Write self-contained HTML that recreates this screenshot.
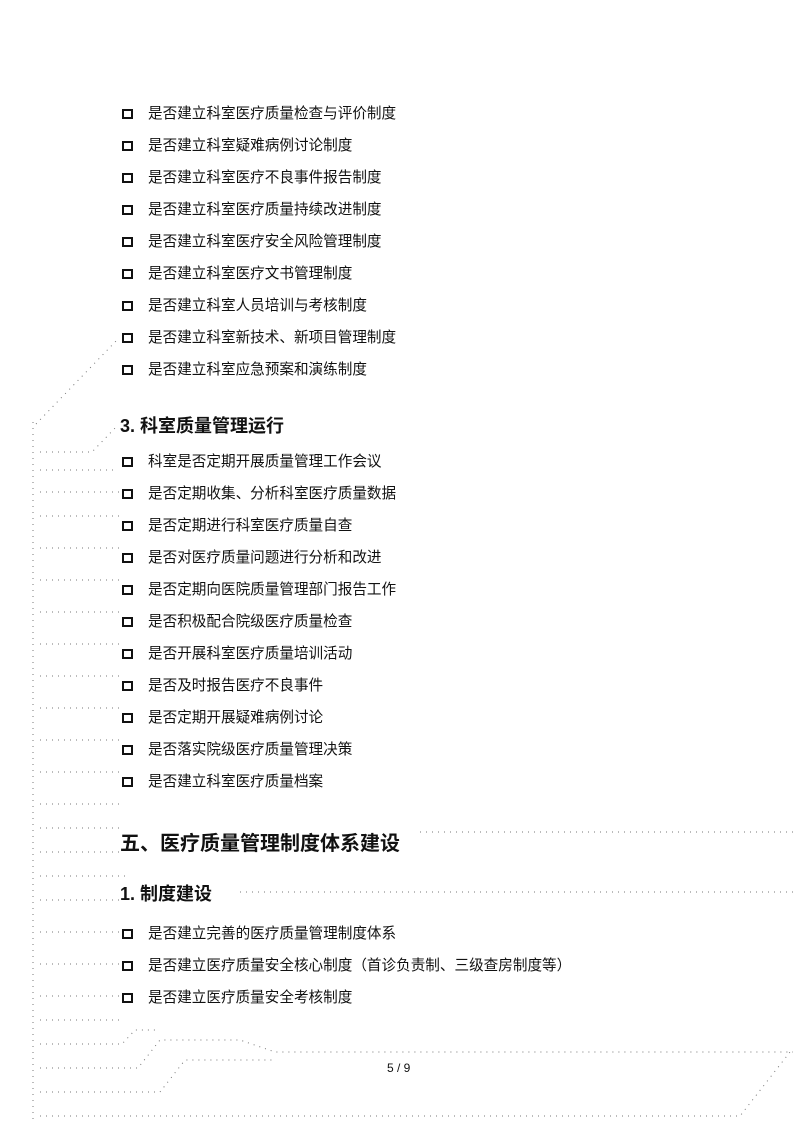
<!DOCTYPE html>
<html><head><meta charset="utf-8"><style>
html,body{margin:0;padding:0;background:#fff}
body{width:793px;height:1122px;position:relative;overflow:hidden;font-family:"Liberation Sans","Noto Sans CJK SC",sans-serif;color:#111}
.r{position:absolute;left:148px;font-size:14.6px;line-height:18px;white-space:nowrap;margin-top:2px}
.cb{position:absolute;left:122px;width:7px;height:6px;border:2px solid #111;margin-top:1px}
.h{position:absolute;left:120px;font-weight:bold;white-space:nowrap}
svg{position:absolute;left:0;top:0}
</style></head><body>
<svg width="793" height="1122">
<g stroke="#777" stroke-width="1" stroke-dasharray="1 5" fill="none">
<line x1="33" y1="422" x2="33" y2="1122"/>
<polyline points="36,424 117,340"/>
<polyline points="40,452 92,452 118,425"/>
<line x1="40" y1="470" x2="115" y2="470"/>
<line x1="40" y1="492" x2="120" y2="492"/>
<line x1="40" y1="516" x2="120" y2="516"/>
<line x1="40" y1="548" x2="120" y2="548"/>
<line x1="40" y1="580" x2="120" y2="580"/>
<line x1="40" y1="612" x2="120" y2="612"/>
<line x1="40" y1="644" x2="120" y2="644"/>
<line x1="40" y1="676" x2="120" y2="676"/>
<line x1="40" y1="708" x2="120" y2="708"/>
<line x1="40" y1="740" x2="120" y2="740"/>
<line x1="40" y1="772" x2="120" y2="772"/>
<line x1="40" y1="804" x2="120" y2="804"/>
<line x1="40" y1="828" x2="120" y2="828"/>
<line x1="40" y1="852" x2="120" y2="852"/>
<line x1="40" y1="876" x2="130" y2="876"/>
<line x1="40" y1="900" x2="120" y2="900"/>
<line x1="40" y1="932" x2="120" y2="932"/>
<line x1="40" y1="964" x2="120" y2="964"/>
<line x1="40" y1="996" x2="120" y2="996"/>
<line x1="40" y1="1020" x2="122" y2="1020"/>
<polyline points="40,1044 122,1044 135,1030 155,1030"/>
<polyline points="40,1068 138,1068 160,1040 240,1040 275,1052 793,1052"/>
<polyline points="40,1092 160,1092 185,1060 275,1060"/>
<polyline points="40,1116 740,1116 790,1052"/>
<line x1="420" y1="832" x2="793" y2="832"/>
<line x1="240" y1="892" x2="793" y2="892"/>
</g></svg>
<div class="cb" style="top:108px"></div><div class="r" style="top:103px">是否建立科室医疗质量检查与评价制度</div>
<div class="cb" style="top:140px"></div><div class="r" style="top:135px">是否建立科室疑难病例讨论制度</div>
<div class="cb" style="top:172px"></div><div class="r" style="top:167px">是否建立科室医疗不良事件报告制度</div>
<div class="cb" style="top:204px"></div><div class="r" style="top:199px">是否建立科室医疗质量持续改进制度</div>
<div class="cb" style="top:236px"></div><div class="r" style="top:231px">是否建立科室医疗安全风险管理制度</div>
<div class="cb" style="top:268px"></div><div class="r" style="top:263px">是否建立科室医疗文书管理制度</div>
<div class="cb" style="top:300px"></div><div class="r" style="top:295px">是否建立科室人员培训与考核制度</div>
<div class="cb" style="top:332px"></div><div class="r" style="top:327px">是否建立科室新技术、新项目管理制度</div>
<div class="cb" style="top:364px"></div><div class="r" style="top:359px">是否建立科室应急预案和演练制度</div>
<div class="h" style="top:412px;font-size:18px">3. 科室质量管理运行</div>
<div class="cb" style="top:456px"></div><div class="r" style="top:451px">科室是否定期开展质量管理工作会议</div>
<div class="cb" style="top:488px"></div><div class="r" style="top:483px">是否定期收集、分析科室医疗质量数据</div>
<div class="cb" style="top:520px"></div><div class="r" style="top:515px">是否定期进行科室医疗质量自查</div>
<div class="cb" style="top:552px"></div><div class="r" style="top:547px">是否对医疗质量问题进行分析和改进</div>
<div class="cb" style="top:584px"></div><div class="r" style="top:579px">是否定期向医院质量管理部门报告工作</div>
<div class="cb" style="top:616px"></div><div class="r" style="top:611px">是否积极配合院级医疗质量检查</div>
<div class="cb" style="top:648px"></div><div class="r" style="top:643px">是否开展科室医疗质量培训活动</div>
<div class="cb" style="top:680px"></div><div class="r" style="top:675px">是否及时报告医疗不良事件</div>
<div class="cb" style="top:712px"></div><div class="r" style="top:707px">是否定期开展疑难病例讨论</div>
<div class="cb" style="top:744px"></div><div class="r" style="top:739px">是否落实院级医疗质量管理决策</div>
<div class="cb" style="top:776px"></div><div class="r" style="top:771px">是否建立科室医疗质量档案</div>
<div class="h" style="top:827px;font-size:20px">五、医疗质量管理制度体系建设</div>
<div class="h" style="top:880px;font-size:18px">1. 制度建设</div>
<div class="cb" style="top:928px"></div><div class="r" style="top:923px">是否建立完善的医疗质量管理制度体系</div>
<div class="cb" style="top:960px"></div><div class="r" style="top:955px">是否建立医疗质量安全核心制度（首诊负责制、三级查房制度等）</div>
<div class="cb" style="top:992px"></div><div class="r" style="top:987px">是否建立医疗质量安全考核制度</div>
<div style="position:absolute;left:387px;top:1061px;font-size:12px">5 / 9</div>
</body></html>
